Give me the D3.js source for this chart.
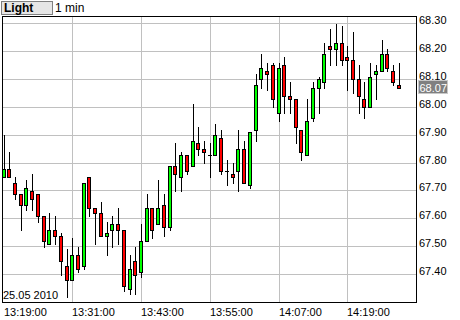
<!DOCTYPE html>
<html>
<head>
<meta charset="utf-8">
<script src="https://cdn.jsdelivr.net/npm/d3@7"></script>
<style>
  body { margin: 0; background: #fff; }
  svg { display: block; font-family: "Liberation Sans", Arial, sans-serif; }
</style>
</head>
<body>
<svg class="chart" width="460" height="320"></svg>
<script>
// 1 minute candles, 13:19 .. 14:28
let openP  = [67.75,67.78,67.73,67.69,67.65,67.70,67.69,67.61,67.51,67.56,
              67.54,67.43,67.38,67.47,67.43,67.75,67.64,67.62,67.54,67.56,
              67.58,67.56,67.35,67.45,67.41,67.52,67.64,67.58,67.65,67.57,
              67.79,67.75,67.83,67.79,67.87,67.85,67.83,67.83,67.89,67.77,
              67.76,67.77,67.85,67.72,67.92,68.10,68.13,68.15,67.98,68.15,
              68.04,68.03,67.92,67.83,67.96,68.07,68.09,68.22,68.21,68.23,
              68.18,68.17,68.10,68.03,68.00,68.12,68.13,68.19,68.13,68.08];
let highP  = [67.90,67.84,67.75,67.69,67.74,67.76,67.69,67.61,67.62,67.61,
              67.55,67.49,67.53,67.50,67.73,67.75,67.64,67.66,67.59,67.61,
              67.64,67.56,67.47,67.50,67.58,67.69,67.64,67.74,67.69,67.79,
              67.87,67.84,67.83,68.01,67.93,67.88,67.87,67.94,67.92,67.81,
              67.80,67.92,67.88,67.91,68.12,68.19,68.16,68.16,68.16,68.18,
              68.09,68.03,67.92,68.03,68.09,68.11,68.23,68.28,68.30,68.29,
              68.22,68.27,68.15,68.09,68.16,68.15,68.24,68.21,68.15,68.16];
let lowP   = [67.75,67.75,67.67,67.56,67.63,67.63,67.59,67.50,67.51,67.51,
              67.40,67.32,67.38,67.41,67.42,67.61,67.51,67.54,67.47,67.50,
              67.51,67.34,67.33,67.33,67.39,67.52,67.53,67.58,67.54,67.56,
              67.70,67.70,67.76,67.79,67.83,67.80,67.75,67.83,67.76,67.72,
              67.73,67.70,67.73,67.71,67.88,68.07,68.06,68.00,67.95,67.98,
              67.98,67.87,67.81,67.83,67.95,67.98,68.07,68.15,68.15,68.15,
              68.06,68.05,67.98,67.96,68.00,68.03,68.13,68.13,68.08,68.07];
let closeP = [67.78,67.75,67.69,67.65,67.71,67.67,67.61,67.52,67.56,67.54,
              67.45,67.38,67.47,67.42,67.73,67.64,67.62,67.54,67.55,67.58,
              67.56,67.36,67.42,67.40,67.52,67.64,67.56,67.64,67.57,67.79,
              67.76,67.83,67.77,67.88,67.85,67.84,67.83,67.90,67.77,67.77,
              67.75,67.85,67.73,67.91,68.08,68.14,68.12,68.03,68.14,68.04,
              68.03,67.93,67.84,67.95,68.07,68.10,68.19,68.21,68.23,68.17,
              68.17,68.10,68.04,68.00,68.11,68.13,68.19,68.14,68.09,68.07];

let priceTicks = [67.40, 67.50, 67.60, 67.70, 67.80, 67.90, 68.00, 68.10, 68.20, 68.30];
let timeTicks = ["13:19:00", "13:31:00", "13:43:00", "13:55:00", "14:07:00", "14:19:00"];
let dateLabel = "25.05 2010";
let lastPrice = 68.07;

let parseT = d3.timeParse("%H:%M:%S");
let startT = parseT("13:19:00"),
    endT = parseT("14:31:00");
let minutes = d3.timeMinute.range(startT, d3.timeMinute.offset(startT, openP.length));

let candles = minutes.map((t, i) => ({
    t: t, o: openP[i], h: highP[i], l: lowP[i], c: closeP[i]
}));

let svg = d3.select("svg.chart"),
    plot = {left: 2.5, top: 16.5, right: 416.5, bottom: 302.5};

let xScale = d3.scaleTime()
    .domain([startT, endT])
    .range([3.5, 416]);
let yScale = d3.scaleLinear()
    .domain([67.30, 68.30])
    .range([302.5, 23.5]);

// header
svg.append("rect")
    .attr("x", 1.5).attr("y", 1.5)
    .attr("width", 51).attr("height", 13)
    .attr("fill", "#e6e6e6")
    .attr("stroke", "#808080");
svg.append("text")
    .attr("x", 4).attr("y", 12)
    .attr("font-size", "12px")
    .attr("font-weight", "bold")
    .text("Light");
svg.append("text")
    .attr("x", 55).attr("y", 12)
    .attr("font-size", "12px")
    .text("1 min");

// grid
let grid = svg.append("g")
    .attr("stroke", "#c0c0c0")
    .attr("stroke-width", 1);
grid.selectAll(".hgrid")
    .data(priceTicks)
    .join("line")
    .attr("x1", plot.left).attr("x2", plot.right)
    .attr("y1", d => Math.floor(yScale(d)) + 0.5)
    .attr("y2", d => Math.floor(yScale(d)) + 0.5);
grid.selectAll(".vgrid")
    .data(timeTicks.slice(1))
    .join("line")
    .attr("x1", d => Math.round(xScale(parseT(d))) + 0.5)
    .attr("x2", d => Math.round(xScale(parseT(d))) + 0.5)
    .attr("y1", plot.top).attr("y2", plot.bottom);

// candles
let cg = svg.append("g");
cg.selectAll(".wick")
    .data(candles)
    .join("line")
    .attr("class", "wick")
    .attr("x1", d => Math.round(xScale(d.t)) + 0.5)
    .attr("x2", d => Math.round(xScale(d.t)) + 0.5)
    .attr("y1", d => Math.round(yScale(d.h)))
    .attr("y2", d => Math.round(yScale(d.l)) + 1)
    .attr("stroke", "#000");
cg.selectAll(".body")
    .data(candles)
    .join("rect")
    .attr("class", "body")
    .attr("x", d => Math.round(xScale(d.t)) - 1.5)
    .attr("width", 3)
    .attr("y", d => Math.round(yScale(Math.max(d.o, d.c))) + 0.5)
    .attr("height", d => Math.max(0.01,
        Math.round(yScale(Math.min(d.o, d.c))) - Math.round(yScale(Math.max(d.o, d.c)))))
    .attr("fill", d => d.c >= d.o ? "#00ff00" : "#ff0000")
    .attr("stroke", "#000");

// frame
svg.append("rect")
    .attr("x", plot.left).attr("y", plot.top)
    .attr("width", plot.right - plot.left)
    .attr("height", plot.bottom - plot.top)
    .attr("fill", "none")
    .attr("stroke", "#000");

// price axis labels
svg.selectAll(".plabel")
    .data(priceTicks)
    .join("text")
    .attr("class", "plabel")
    .attr("x", 419)
    .attr("y", d => Math.floor(yScale(d)) + 1)
    .attr("font-size", "11px")
    .text(d => d.toFixed(2));

// last price box
let yl = Math.round(yScale(lastPrice));
svg.append("rect")
    .attr("x", 418.5).attr("y", yl - 7.5)
    .attr("width", 29).attr("height", 13)
    .attr("fill", "#808080")
    .attr("stroke", "#c8c8c8");
svg.append("text")
    .attr("x", 419.5).attr("y", yl + 4)
    .attr("font-size", "11px")
    .attr("fill", "#fff")
    .text(lastPrice.toFixed(2));

// time labels
svg.selectAll(".tlabel")
    .data(timeTicks)
    .join("text")
    .attr("class", "tlabel")
    .attr("x", d => Math.round(xScale(parseT(d))))
    .attr("y", 316)
    .attr("font-size", "11px")
    .text(d => d);

svg.append("text")
    .attr("x", 3).attr("y", 299)
    .attr("font-size", "11px")
    .text(dateLabel);
</script>
</body>
</html>
